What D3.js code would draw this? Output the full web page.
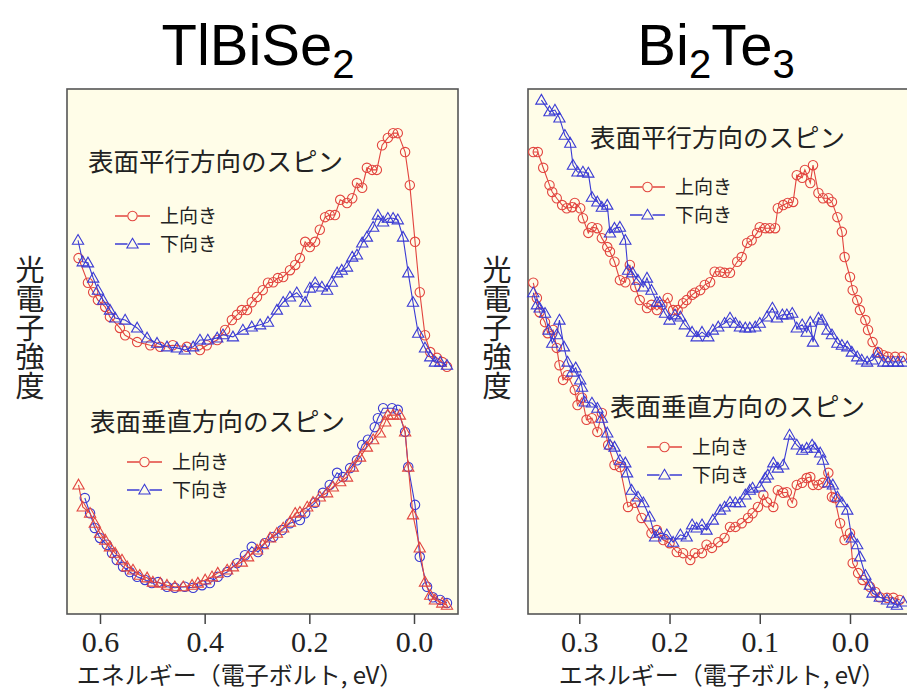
<!DOCTYPE html>
<html>
<head>
<meta charset="utf-8">
<script src="https://cdn.jsdelivr.net/npm/d3@7"></script>
<style>
body { margin: 0; background: #fff; }
</style>
</head>
<body>
<script>
var w = 907;
var h = 693;

// tick values of each energy axis (eV, binding energy)
var leftTicks = [0.6, 0.4, 0.2, 0.0];
var rightTicks = [0.3, 0.2, 0.1, 0.0];

var seriesNames = ["上向き", "下向き"];
var yTitle = "光電子強度";
var xTitle = "エネルギー（電子ボルト, eV）";
var panelLabels = ["表面平行方向のスピン", "表面垂直方向のスピン"];

// [energy eV, intensity a.u.]
// TlBiSe2, in-plane spin
var tlParUp = [[0.641,67.6],[0.623,62.9],[0.613,61.1],[0.604,59.6],[0.590,58.3],[0.581,56.4],[0.562,54.3],[0.552,52.9],[0.529,51.6],[0.504,51.0],[0.485,50.7],[0.461,51.0],[0.434,50.7],[0.409,50.1],[0.396,51.0],[0.376,52.0],[0.361,53.9],[0.348,55.8],[0.338,56.8],[0.329,57.7],[0.319,57.7],[0.310,59.2],[0.300,60.2],[0.289,61.5],[0.279,62.9],[0.269,63.0],[0.260,63.8],[0.250,64.0],[0.237,65.3],[0.227,66.3],[0.218,67.6],[0.208,70.7],[0.199,69.7],[0.189,70.7],[0.180,73.0],[0.170,75.4],[0.161,75.8],[0.151,75.8],[0.141,78.7],[0.128,78.1],[0.118,79.0],[0.109,81.9],[0.099,81.0],[0.090,84.8],[0.080,84.4],[0.071,84.4],[0.061,89.1],[0.050,90.5],[0.040,91.4],[0.031,91.4],[0.017,87.8],[0.008,81.5],[-0.002,70.7],[-0.011,61.1],[-0.021,52.9],[-0.031,49.7],[-0.044,48.6],[-0.054,47.8],[-0.063,46.9]];
var tlParDown = [[0.642,71.0],[0.633,66.9],[0.623,66.7],[0.613,63.8],[0.604,61.5],[0.594,59.6],[0.581,57.7],[0.571,56.2],[0.552,55.8],[0.529,54.3],[0.510,52.4],[0.491,51.4],[0.472,50.7],[0.453,50.5],[0.438,50.1],[0.422,50.7],[0.409,52.0],[0.394,52.0],[0.376,52.4],[0.365,53.0],[0.346,52.6],[0.327,53.9],[0.310,54.5],[0.294,54.9],[0.279,55.4],[0.262,57.7],[0.250,59.2],[0.237,60.2],[0.224,61.0],[0.208,59.2],[0.199,61.9],[0.189,62.9],[0.176,62.1],[0.166,61.5],[0.157,63.0],[0.147,64.8],[0.138,65.3],[0.128,65.9],[0.118,67.8],[0.109,68.2],[0.099,70.5],[0.090,71.6],[0.078,73.5],[0.069,75.8],[0.059,74.5],[0.050,75.2],[0.040,75.2],[0.031,74.9],[0.021,71.6],[0.011,64.8],[0.002,59.2],[-0.008,53.3],[-0.021,50.5],[-0.031,48.8],[-0.040,47.8],[-0.050,47.8],[-0.063,47.2]];
// TlBiSe2, out-of-plane spin
var tlPerpUp = [[0.629,21.9],[0.619,19.0],[0.610,16.2],[0.600,14.3],[0.587,13.0],[0.577,11.4],[0.568,10.1],[0.556,8.8],[0.543,7.8],[0.529,6.9],[0.514,6.3],[0.501,5.7],[0.489,5.9],[0.472,5.0],[0.457,4.8],[0.438,5.0],[0.422,4.8],[0.405,5.3],[0.390,5.7],[0.375,6.9],[0.357,7.8],[0.338,9.5],[0.323,11.0],[0.310,12.6],[0.298,11.6],[0.285,13.3],[0.269,14.5],[0.252,15.8],[0.237,17.1],[0.218,17.7],[0.208,19.0],[0.189,21.0],[0.174,22.9],[0.161,24.4],[0.147,26.7],[0.136,25.9],[0.122,27.6],[0.109,29.1],[0.099,32.0],[0.088,33.0],[0.075,35.4],[0.069,37.1],[0.059,39.0],[0.042,39.0],[0.031,38.7],[0.017,34.5],[0.011,27.8],[-0.002,20.6],[-0.011,10.7],[-0.025,5.0],[-0.036,3.0],[-0.050,2.5],[-0.063,1.9]];
var tlPerpDown = [[0.641,24.4],[0.633,20.2],[0.619,19.0],[0.610,17.1],[0.600,15.2],[0.590,13.9],[0.581,12.6],[0.571,11.4],[0.558,10.1],[0.548,8.8],[0.537,8.2],[0.524,7.2],[0.510,6.7],[0.499,5.9],[0.485,5.7],[0.472,5.3],[0.457,5.0],[0.441,5.0],[0.424,5.3],[0.413,5.7],[0.399,6.3],[0.386,6.9],[0.375,7.6],[0.357,8.2],[0.346,8.8],[0.329,9.7],[0.317,10.7],[0.300,12.0],[0.289,13.0],[0.275,14.3],[0.262,15.2],[0.250,16.2],[0.237,17.3],[0.227,19.0],[0.218,19.2],[0.204,20.2],[0.193,21.1],[0.180,22.1],[0.166,22.9],[0.155,24.0],[0.141,25.0],[0.128,25.9],[0.117,27.8],[0.103,29.7],[0.090,31.6],[0.078,33.0],[0.065,34.3],[0.055,36.4],[0.050,37.7],[0.040,37.7],[0.027,37.7],[0.017,34.5],[0.011,27.8],[0.002,18.7],[-0.011,12.4],[-0.021,5.9],[-0.031,3.4],[-0.040,2.5],[-0.054,1.9],[-0.063,1.5]];

// Bi2Te3, in-plane spin
var btParUp = [[0.351,87.8],[0.346,87.8],[0.340,84.8],[0.333,81.5],[0.330,80.2],[0.325,79.0],[0.319,77.7],[0.314,77.1],[0.308,77.3],[0.305,78.1],[0.299,77.1],[0.296,75.2],[0.290,72.4],[0.286,73.5],[0.280,73.3],[0.275,71.4],[0.269,69.7],[0.266,68.8],[0.261,66.9],[0.255,63.4],[0.249,63.0],[0.244,66.3],[0.238,62.1],[0.233,59.6],[0.225,58.1],[0.220,58.7],[0.214,57.7],[0.208,58.7],[0.202,60.0],[0.196,57.7],[0.191,57.7],[0.185,59.0],[0.181,59.6],[0.175,60.6],[0.172,61.0],[0.166,61.5],[0.161,62.5],[0.155,63.0],[0.150,65.0],[0.144,65.0],[0.139,64.8],[0.133,64.8],[0.125,66.9],[0.120,67.8],[0.114,70.5],[0.109,71.0],[0.103,72.4],[0.100,73.5],[0.094,73.3],[0.089,73.3],[0.083,73.3],[0.080,77.1],[0.074,77.7],[0.069,78.1],[0.063,78.3],[0.059,83.4],[0.053,82.9],[0.050,84.4],[0.044,81.9],[0.041,85.3],[0.035,80.0],[0.030,79.0],[0.024,79.0],[0.020,78.3],[0.014,75.4],[0.009,72.6],[0.006,67.8],[0.000,64.0],[-0.003,61.5],[-0.008,59.6],[-0.011,57.7],[-0.017,55.8],[-0.020,53.9],[-0.025,51.6],[-0.031,49.7],[-0.037,49.1],[-0.042,48.8],[-0.050,48.8],[-0.058,48.8]];
var btParDown = [[0.342,97.7],[0.333,95.5],[0.327,95.8],[0.322,94.3],[0.316,91.0],[0.310,89.5],[0.307,85.3],[0.302,84.0],[0.296,84.0],[0.290,83.8],[0.286,79.2],[0.280,78.3],[0.275,77.3],[0.269,77.7],[0.266,72.4],[0.261,73.3],[0.255,73.5],[0.249,71.0],[0.246,65.3],[0.241,64.8],[0.235,63.4],[0.229,62.1],[0.225,63.8],[0.220,61.5],[0.214,59.2],[0.211,59.2],[0.205,57.1],[0.200,55.8],[0.194,56.8],[0.188,56.4],[0.183,54.9],[0.175,53.5],[0.170,52.6],[0.164,53.5],[0.157,52.6],[0.152,53.9],[0.146,54.5],[0.139,55.2],[0.133,56.2],[0.127,55.2],[0.122,54.5],[0.116,54.3],[0.111,54.3],[0.105,54.5],[0.100,55.2],[0.092,56.4],[0.086,58.1],[0.081,56.2],[0.075,56.8],[0.070,56.8],[0.064,57.1],[0.059,54.3],[0.053,54.9],[0.048,53.5],[0.044,55.4],[0.041,51.6],[0.035,56.2],[0.031,55.8],[0.025,53.9],[0.020,53.0],[0.014,51.4],[0.009,51.0],[0.003,50.7],[-0.002,49.7],[-0.008,48.8],[-0.013,48.2],[-0.019,47.8],[-0.025,48.2],[-0.031,49.5],[-0.037,47.8],[-0.042,47.8],[-0.048,47.8],[-0.053,47.8],[-0.059,47.8]];
// Bi2Te3, out-of-plane spin
var btPerpUp = [[0.351,62.9],[0.347,60.0],[0.344,57.3],[0.338,55.4],[0.335,53.3],[0.329,53.9],[0.325,50.5],[0.322,47.2],[0.318,44.4],[0.313,45.3],[0.305,42.5],[0.302,39.6],[0.297,41.0],[0.292,36.8],[0.286,37.1],[0.280,34.5],[0.275,38.1],[0.268,32.0],[0.261,28.2],[0.255,27.8],[0.246,20.2],[0.238,21.0],[0.231,18.1],[0.220,15.2],[0.214,15.8],[0.207,13.9],[0.200,13.3],[0.192,11.6],[0.185,11.4],[0.177,10.1],[0.172,11.4],[0.164,11.4],[0.159,13.0],[0.153,12.4],[0.146,13.5],[0.139,14.3],[0.133,16.4],[0.127,16.4],[0.120,17.1],[0.113,18.1],[0.108,19.0],[0.102,20.2],[0.096,22.5],[0.092,21.1],[0.085,20.2],[0.080,23.4],[0.074,22.9],[0.070,23.0],[0.064,21.0],[0.059,24.4],[0.053,24.8],[0.048,25.7],[0.044,25.9],[0.041,24.4],[0.035,24.4],[0.030,24.8],[0.024,26.7],[0.020,22.1],[0.017,21.9],[0.011,17.1],[0.006,13.9],[0.000,15.2],[-0.003,9.5],[-0.009,7.6],[-0.014,6.3],[-0.022,5.0],[-0.028,4.0],[-0.033,3.0],[-0.041,2.9],[-0.048,2.9],[-0.055,2.5]];
var btPerpDown = [[0.351,61.0],[0.347,58.7],[0.344,58.1],[0.338,57.1],[0.334,53.9],[0.330,51.4],[0.325,53.0],[0.322,55.8],[0.317,50.7],[0.313,47.8],[0.308,45.9],[0.304,46.7],[0.299,44.4],[0.297,43.0],[0.294,40.2],[0.286,40.0],[0.280,39.0],[0.275,37.1],[0.269,34.3],[0.266,32.0],[0.261,31.6],[0.255,29.1],[0.249,28.6],[0.247,26.7],[0.242,23.4],[0.235,22.1],[0.229,21.0],[0.222,18.3],[0.216,14.5],[0.211,15.2],[0.203,14.9],[0.196,13.5],[0.188,14.9],[0.181,14.5],[0.175,16.8],[0.170,16.2],[0.164,16.8],[0.159,15.8],[0.152,17.7],[0.144,19.6],[0.139,20.2],[0.133,21.1],[0.127,21.0],[0.122,21.0],[0.116,22.5],[0.111,23.4],[0.108,23.8],[0.100,24.0],[0.094,25.7],[0.091,26.3],[0.085,28.6],[0.080,27.6],[0.074,28.2],[0.067,33.9],[0.059,32.0],[0.053,31.0],[0.048,31.4],[0.042,32.0],[0.039,31.4],[0.033,30.5],[0.030,29.1],[0.024,24.8],[0.019,24.4],[0.014,22.1],[0.009,21.0],[0.003,19.6],[-0.002,14.3],[-0.008,13.0],[-0.011,10.7],[-0.017,7.2],[-0.022,5.3],[-0.025,3.8],[-0.033,3.0],[-0.041,2.5],[-0.047,1.9],[-0.052,1.5],[-0.059,2.1]];

var red = "#e2453f";
var blue = "#3b3bd4";

var svg = d3.select("body")
            .append("svg")
            .attr("width", w)
            .attr("height", h)
            .style("font-family", "'Noto Sans CJK JP', sans-serif");

var yScale = d3.scaleLinear().domain([0, 100]).range([613, 88]);

var panels = [
    {
        title: ["TlBiSe", "2"], tx: 258,
        left: 67, right: 458,
        x: d3.scaleLinear().domain([0.6, 0.0]).range([100, 414]),
        ticks: leftTicks, yLabelX: 30, xTitleX: 240,
        groups: [
            {label: panelLabels[0], lx: 88, ly: 171, legX: 115, legY: 216, series: [
                {data: tlParUp, color: red, shape: "circle"},
                {data: tlParDown, color: blue, shape: "triangle"}]},
            {label: panelLabels[1], lx: 90, ly: 431, legX: 127, legY: 462, series: [
                {data: tlPerpUp, color: blue, shape: "circle"},
                {data: tlPerpDown, color: red, shape: "triangle"}]}
        ]
    },
    {
        title: ["Bi", "2", "Te", "3"], tx: 716,
        left: 528, right: 950,
        x: d3.scaleLinear().domain([0.3, 0.0]).range([579.3, 850]),
        ticks: rightTicks, yLabelX: 497, xTitleX: 722,
        groups: [
            {label: panelLabels[0], lx: 590, ly: 147, legX: 630, legY: 187, series: [
                {data: btParUp, color: red, shape: "circle"},
                {data: btParDown, color: blue, shape: "triangle"}]},
            {label: panelLabels[1], lx: 610, ly: 416, legX: 647, legY: 447, series: [
                {data: btPerpUp, color: red, shape: "circle"},
                {data: btPerpDown, color: blue, shape: "triangle"}]}
        ]
    }
];

var tri = d3.symbol().type(d3.symbolTriangle).size(55);

function drawMarker(g, shape, color) {
    if (shape == "circle") {
        g.append("circle").attr("r", 4.7)
         .attr("fill", "none").attr("stroke", color).attr("stroke-width", 1.1);
    } else {
        g.append("path").attr("d", tri).attr("transform", "translate(0,0.8)")
         .attr("fill", "none").attr("stroke", color).attr("stroke-width", 1.1);
    }
}

panels.forEach(function(p) {
    var xScale = p.x;

    // frame
    svg.append("rect")
       .attr("x", p.left).attr("y", 89)
       .attr("width", p.right - p.left).attr("height", 614 - 89)
       .attr("fill", "#fffde8")
       .attr("stroke", "#555").attr("stroke-width", 1.6);

    // title with subscripts
    var t = svg.append("text")
       .attr("x", p.tx).attr("y", 65)
       .attr("text-anchor", "middle")
       .style("font-family", "'Liberation Sans', Arial, sans-serif")
       .style("font-size", "58px");
    p.title.forEach(function(s, i) {
        var sub = (i % 2 == 1);
        t.append("tspan").text(s)
         .attr("dy", sub ? 13 : (i > 0 ? -13 : 0))
         .style("font-size", sub ? "40px" : "58px");
    });

    // axis
    var axis = d3.axisBottom(xScale)
                 .tickValues(p.ticks)
                 .tickSize(10)
                 .tickPadding(7)
                 .tickFormat(d3.format(".1f"));
    var ag = svg.append("g").attr("transform", "translate(0,614)").call(axis);
    ag.select(".domain").remove();
    ag.selectAll("line").attr("stroke", "#444").attr("stroke-width", 1.5);
    ag.selectAll("text")
      .style("font-family", "'Liberation Serif', 'Times New Roman', serif")
      .style("font-size", "30px")
      .attr("fill", "#222");

    svg.append("text")
       .attr("x", p.xTitleX).attr("y", 684)
       .attr("text-anchor", "middle")
       .style("font-size", "24px")
       .attr("fill", "#222")
       .text(xTitle);

    svg.append("text")
       .attr("x", p.yLabelX).attr("y", 328)
       .attr("text-anchor", "middle")
       .style("writing-mode", "vertical-rl")
       .style("text-orientation", "upright")
       .style("font-size", "29px")
       .attr("fill", "#222")
       .text(yTitle);

    p.groups.forEach(function(gr) {
        gr.series.forEach(function(s) {
            var line = d3.line()
                         .x(function(d) { return xScale(d[0]); })
                         .y(function(d) { return yScale(d[1]); });
            svg.append("path")
               .datum(s.data)
               .attr("d", line)
               .attr("fill", "none")
               .attr("stroke", s.color)
               .attr("stroke-width", 1.1);
            svg.selectAll(null)
               .data(s.data)
               .enter()
               .append("g")
               .attr("transform", function(d) {
                   return "translate(" + xScale(d[0]) + "," + yScale(d[1]) + ")";
               })
               .each(function() { drawMarker(d3.select(this), s.shape, s.color); });
        });

        svg.append("text")
           .attr("x", gr.lx).attr("y", gr.ly)
           .style("font-size", "25.5px")
           .attr("fill", "#222")
           .text(gr.label);

        // legend; labels follow the drawn series order (up, down)
        gr.series.forEach(function(s, i) {
            var yy = gr.legY + i * 28;
            var lg = svg.append("g").attr("transform", "translate(" + gr.legX + "," + yy + ")");
            lg.append("line").attr("x1", 0).attr("x2", 35)
              .attr("stroke", i == 0 ? red : blue).attr("stroke-width", 1.3);
            var mg = lg.append("g").attr("transform", "translate(17.5,0)");
            mg.append("rect").attr("x", -5).attr("y", -5).attr("width", 10).attr("height", 10)
              .attr("fill", "#fffde8");
            drawMarker(mg, i == 0 ? "circle" : "triangle", i == 0 ? red : blue);
            lg.append("text").attr("x", 45).attr("y", 7)
              .style("font-size", "19px").attr("fill", "#222")
              .text(seriesNames[i]);
        });
    });
});
</script>
</body>
</html>
